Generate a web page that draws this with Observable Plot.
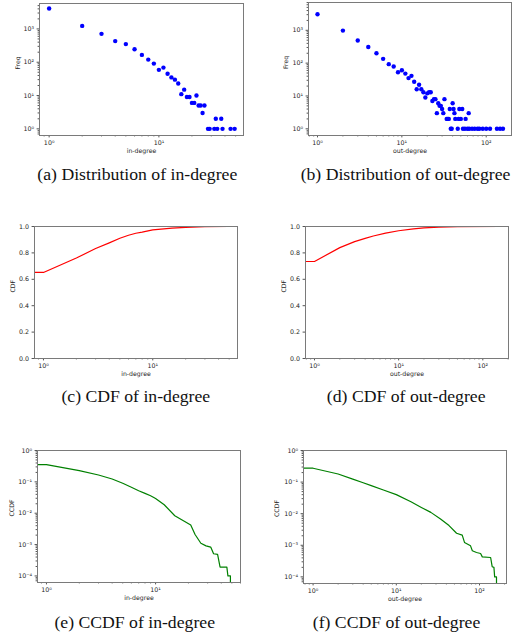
<!DOCTYPE html>
<html><head><meta charset="utf-8">
<script src="https://cdn.jsdelivr.net/npm/d3@7"></script>
<script src="https://cdn.jsdelivr.net/npm/@observablehq/plot@0.6"></script>
<style>
body{margin:0;background:#fff;}
#fig{position:relative;width:519px;height:635px;overflow:hidden;background:#fff;}
.panel{position:absolute;}
.cap{position:absolute;width:300px;text-align:center;font-family:"Liberation Serif","Times New Roman",serif;font-size:17.7px;line-height:20px;height:20px;color:#111;white-space:nowrap;}
</style></head><body><div id="fig"></div>
<script>
// ---------- data ----------
// (a) in-degree distribution
const inDegree = [1,2,3,4,5,6,7,8,9,10,11,12,13,14,15,16,17,18,19,20,21,22,23,24,25,26,28,29,32,33,34,37,38,45,49];
const inFreq   = [4080,1230,710,430,350,245,166,120,91,59,69,45,35,30,23,11,15,9,9,6,6,10,5,5,3,5,1,1,1,2,1,2,1,1,1];
// (b) out-degree distribution
const outDegree = [1,2,3,4,5,6,7,8,9,10,11,12,13,14,15,16,17,18,19,20,21,22,23,24,25,26,27,28,29,30,31,32,34,35,36,37,38,39,40,41,42,43,46,47,48,50,52,53,56,57,60,62,63,68,73,79,83,91,100,111,134,146,158];
const outFreq   = [3100,980,490,310,200,135,93,79,53,61,48,35,41,27,16,22,16,13,9,12,13,13,7,8,8,3,6,5,5,4,3,8,2,2,2,4,1,1,6,4,3,2,1,2,4,2,4,1,1,2,1,3,1,1,1,1,1,1,1,1,1,1,1];
// (c) CDF of in-degree (first point = degree 0, clipped on the log axis)
const cdfInDegree = [0.5,1,2,3,4,5,6,7,8,10,15,20,30,49];
const cdfInValue  = [0.652,0.652,0.761,0.833,0.876,0.911,0.934,0.949,0.958,0.975,0.987,0.994,0.998,1.0];
// (d) CDF of out-degree
const cdfOutDegree = [0.5,1,2,3,4,5,7,10,15,20,30,50,158];
const cdfOutValue  = [0.735,0.735,0.84,0.885,0.91,0.928,0.95,0.968,0.982,0.989,0.995,0.999,1.0];
// (e) CCDF of in-degree
const ccdfInDegree = [0.5,1,2,3,4,5,6,7,8,9,10,12,15,21,23,26,29,32,34,37,39,45,46,48.5,48.5];
const ccdfInValue  = [0.356,0.356,0.228,0.165,0.123,0.090,0.067,0.052,0.043,0.036,0.0296,0.0186,0.0083,0.0042,0.0021,0.0011,0.00091,0.00083,0.00051,0.00049,0.00019,0.00019,0.0001,0.0001,0.000001];
// (f) CCDF of out-degree
const ccdfOutDegree = [0.5,1,2,3,4,5,7,10,15,20,26,34,43,53,62,66,78,82,92,103,108,136,142,149,152,160,160];
const ccdfOutValue  = [0.275,0.275,0.18,0.124,0.095,0.077,0.056,0.040,0.024,0.0158,0.011,0.0068,0.0042,0.0024,0.0021,0.00123,0.00096,0.00067,0.00059,0.00055,0.00043,0.00041,0.00021,0.0002,0.0001,0.0001,0.000001];

const captions = ["(a) Distribution of in-degree","(b) Distribution of out-degree","(c) CDF of in-degree","(d) CDF of out-degree","(e) CCDF of in-degree","(f) CCDF of out-degree"];
const cdfTicks = [0,0.2,0.4,0.6,0.8,1.0];

// ---------- helpers ----------
const zip = (xs, ys) => xs.map((x, i) => ({x, y: ys[i]}));
const SUP = {"0":"⁰","1":"¹","2":"²","3":"³","4":"⁴","5":"⁵","6":"⁶","7":"⁷","8":"⁸","9":"⁹","-":"⁻"};
const pow10fmt = d => "10" + String(Math.round(Math.log10(d))).split("").map(c => SUP[c]).join("");
function majors([lo, hi]) { const o=[]; for (let e=Math.ceil(Math.log10(lo)-1e-9); e<=Math.floor(Math.log10(hi)+1e-9); e++) o.push(10**e); return o; }
function minors([lo, hi]) { const o=[]; for (let e=Math.floor(Math.log10(lo)); e<=Math.ceil(Math.log10(hi)); e++) for (let k=2;k<=9;k++){const v=k*10**e; if(v>=lo&&v<=hi) o.push(v);} return o; }

const fig = document.getElementById("fig");
const TXT = "#262626", TICK = "#555";

function panel(cfg) {
  const {left, top, width, height, frame:[x0,x1,y0,y1], xDomain, yDomain, yLog, xLabel, yLabel, yLabelOff, marks} = cfg;
  const axes = [
    Plot.axisX(majors(xDomain), {tickSize: 2.4, tickPadding: 2.2, tickFormat: pow10fmt, label: null, stroke: TICK, fill: TXT, fontSize: 6.3}),
    Plot.axisX(minors(xDomain), {tickSize: 1.4, fill: "none", label: null, stroke: TICK}),
  ];
  if (yLog) {
    axes.push(Plot.axisY(majors(yDomain), {anchor: "left", tickSize: 2.4, tickPadding: 3, tickFormat: pow10fmt, label: null, stroke: TICK, fill: TXT, fontSize: 6.3}));
    axes.push(Plot.axisY(minors(yDomain), {anchor: "left", tickSize: 1.4, fill: "none", label: null, stroke: TICK}));
  } else {
    axes.push(Plot.axisY(cdfTicks, {anchor: "left", tickSize: 2.4, tickPadding: 3, tickFormat: d3.format(".1f"), label: null, stroke: TICK, fill: TXT, fontSize: 6.3}));
  }
  const svg = Plot.plot({
    width, height,
    marginLeft: x0 - left, marginRight: left + width - x1,
    marginTop: y0 - top, marginBottom: top + height - y1,
    x: {type: "log", domain: xDomain, label: null},
    y: yLog ? {type: "log", domain: yDomain, label: null} : {type: "linear", domain: yDomain, label: null},
    style: {fontFamily: "'DejaVu Sans', sans-serif", fontSize: "6px", color: TXT, background: "transparent", overflow: "visible"},
    marks: [
      ...marks,
      ...axes,
      Plot.text([xLabel], {text: d => d, frameAnchor: "bottom", dy: 17.5, fill: TXT, stroke: "none", fontSize: 6.2}),
      Plot.text([yLabel], {text: d => d, frameAnchor: "left", dx: -yLabelOff, rotate: -90, fill: TXT, stroke: "none", fontSize: 6.2}),
      Plot.frame({stroke: "#7a7a7a", strokeWidth: 1})
    ]
  });
  svg.classList.add("panel");
  svg.style.left = left + "px";
  svg.style.top = top + "px";
  fig.appendChild(svg);
}

function caption(text, cx, cy) {
  const d = document.createElement("div");
  d.className = "cap";
  d.textContent = text;
  d.style.left = (cx - 150) + "px";
  d.style.top = (cy - 10) + "px";
  fig.appendChild(d);
}

const dotOpts = {x: "x", y: "y", r: 2.2, fill: "#0000ff", stroke: "none"};

// (a)
panel({left: 0, top: 0, width: 262, height: 165, frame: [39, 243, 3, 135],
  xDomain: [0.817, 59.0], yDomain: [0.631, 5794], yLog: true,
  xLabel: "in-degree", yLabel: "Freq", yLabelOff: 21.7,
  marks: [Plot.dot(zip(inDegree, inFreq), dotOpts)]});
// (b)
panel({left: 262, top: 0, width: 257, height: 165, frame: [308, 511, 2, 135],
  xDomain: [0.782, 199.5], yDomain: [0.625, 7031], yLog: true,
  xLabel: "out-degree", yLabel: "Freq", yLabelOff: 22.3,
  marks: [Plot.dot(zip(outDegree, outFreq), dotOpts)]});
// (c)
panel({left: 0, top: 215, width: 262, height: 170, frame: [34, 237, 226, 358],
  xDomain: [0.828, 59.6], yDomain: [0, 1], yLog: false,
  xLabel: "in-degree", yLabel: "CDF", yLabelOff: 21,
  marks: [Plot.line(zip(cdfInDegree, cdfInValue), {x: "x", y: "y", stroke: "#ff0000", strokeWidth: 1.2, clip: true})]});
// (d)
panel({left: 262, top: 215, width: 257, height: 170, frame: [305, 508, 226, 358],
  xDomain: [0.782, 202], yDomain: [0, 1], yLog: false,
  xLabel: "out-degree", yLabel: "CDF", yLabelOff: 21.7,
  marks: [Plot.line(zip(cdfOutDegree, cdfOutValue), {x: "x", y: "y", stroke: "#ff0000", strokeWidth: 1.2, clip: true})]});
// (e)
panel({left: 0, top: 440, width: 262, height: 170, frame: [37, 240, 450, 582],
  xDomain: [0.828, 60], yDomain: [6.17e-5, 1], yLog: true,
  xLabel: "in-degree", yLabel: "CCDF", yLabelOff: 25,
  marks: [Plot.line(zip(ccdfInDegree, ccdfInValue), {x: "x", y: "y", stroke: "#008000", strokeWidth: 1.2, clip: true})]});
// (f)
panel({left: 262, top: 440, width: 257, height: 170, frame: [303, 506, 450, 583],
  xDomain: [0.767, 211], yDomain: [6.17e-5, 1], yLog: true,
  xLabel: "out-degree", yLabel: "CCDF", yLabelOff: 26,
  marks: [Plot.line(zip(ccdfOutDegree, ccdfOutValue), {x: "x", y: "y", stroke: "#008000", strokeWidth: 1.2, clip: true})]});

caption(captions[0], 137.3, 173.5);
caption(captions[1], 405.5, 173.5);
caption(captions[2], 135.8, 396);
caption(captions[3], 406.2, 396);
caption(captions[4], 134.7, 621.5);
caption(captions[5], 396.5, 621.5);
</script></body></html>
